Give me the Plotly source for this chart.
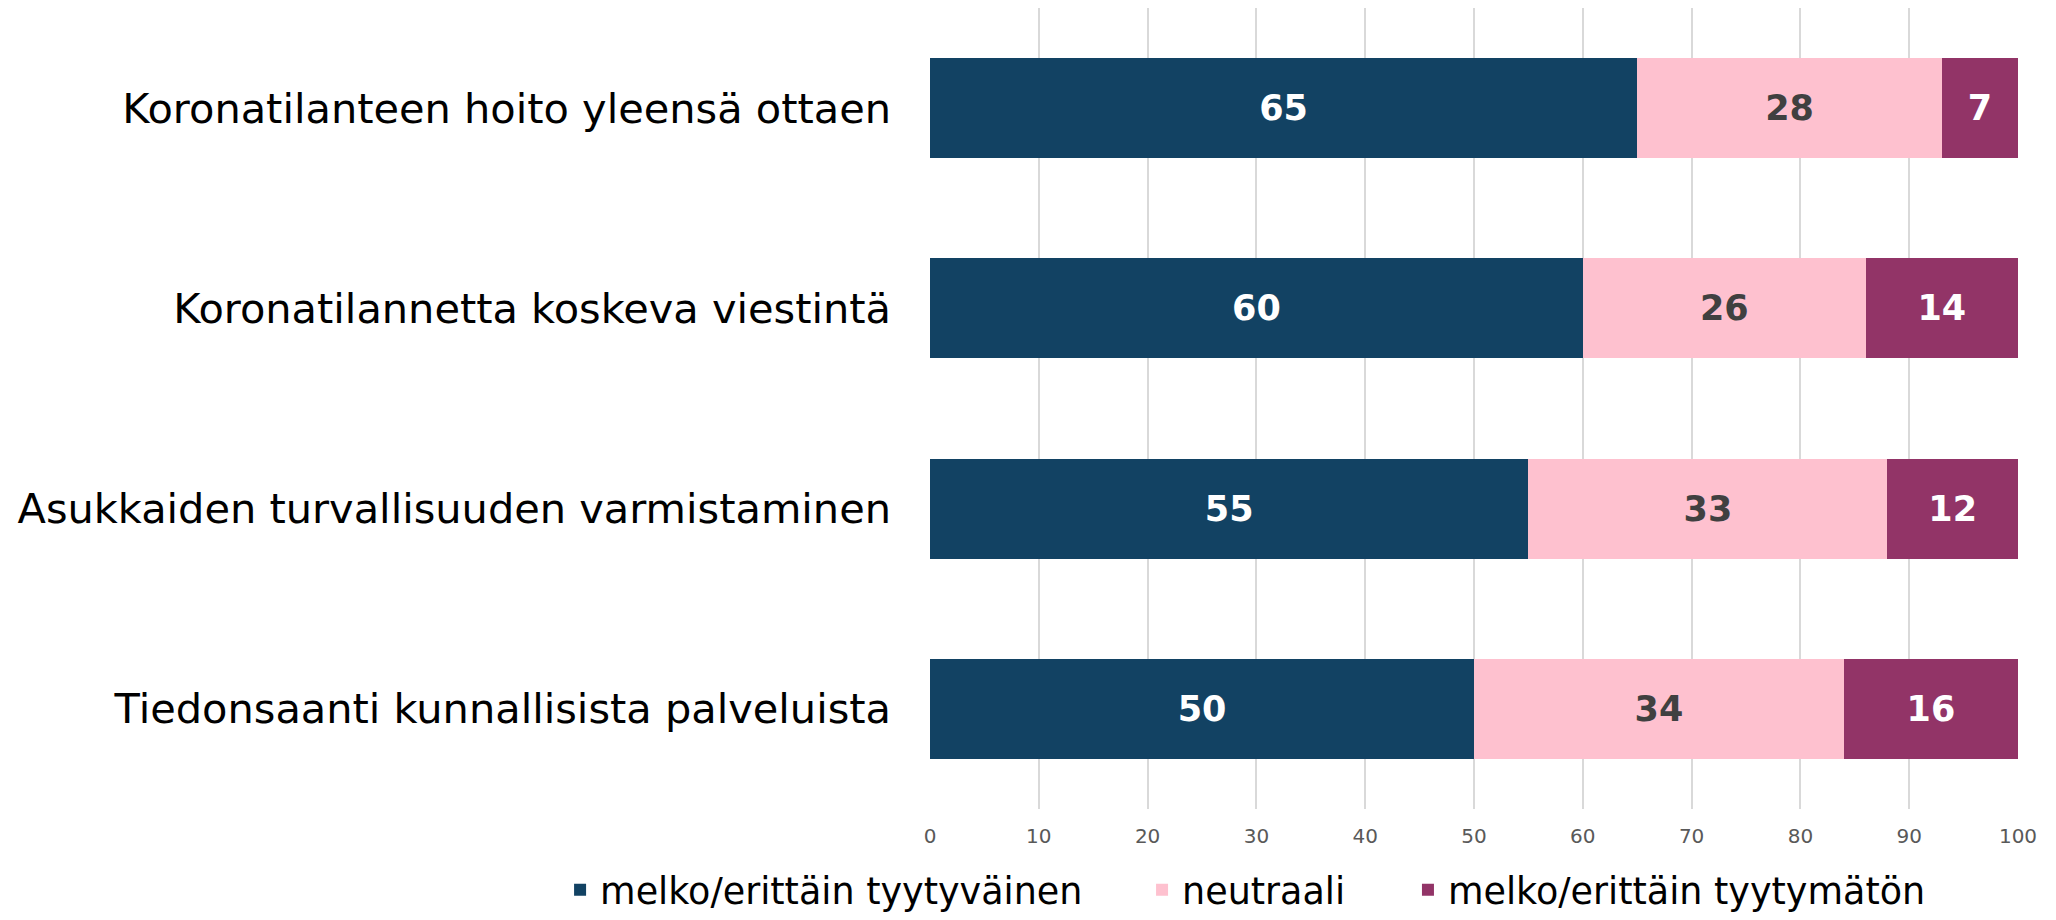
import plotly.graph_objects as go

categories = [
    "Koronatilanteen hoito yleensä ottaen",
    "Koronatilannetta koskeva viestintä",
    "Asukkaiden turvallisuuden varmistaminen",
    "Tiedonsaanti kunnallisista palveluista",
]
series_names = ["melko/erittäin tyytyväinen", "neutraali", "melko/erittäin tyytymätön"]
satisfied = [65, 60, 55, 50]
neutral = [28, 26, 33, 34]
dissatisfied = [7, 14, 12, 16]
x_ticks = [0, 10, 20, 30, 40, 50, 60, 70, 80, 90, 100]

colors = ["#124263", "#FEC1CF", "#923467"]
text_colors = ["#FFFFFF", "#404040", "#FFFFFF"]
legend_ids = ["legend", "legend2", "legend3"]
legend_x = [-0.340, 0.1949, 0.4393]

fig = go.Figure()
for name, vals, c, tc, lid in zip(series_names, [satisfied, neutral, dissatisfied],
                                  colors, text_colors, legend_ids):
    fig.add_trace(go.Bar(
        y=categories, x=vals, name=name, orientation="h",
        marker=dict(color=c, line=dict(width=0)),
        text=[str(v) for v in vals], textposition="inside",
        insidetextanchor="middle",
        textfont=dict(color=tc, size=35, family="DejaVu Sans", weight="bold"),
        cliponaxis=False, legend=lid,
    ))

legend_common = dict(
    orientation="h", xanchor="left", y=-0.101, yanchor="middle",
    font=dict(size=36.5, family="DejaVu Sans", color="#000000"),
    itemwidth=30, bgcolor="rgba(0,0,0,0)",
)
fig.update_layout(
    barmode="stack",
    bargap=0.5,
    width=2040, height=904,
    margin=dict(l=922, r=30, t=0, b=103, autoexpand=False),
    paper_bgcolor="white", plot_bgcolor="white",
    font=dict(family="DejaVu Sans", color="#000000"),
    uniformtext=dict(minsize=10, mode="show"),
    legend=dict(x=legend_x[0], **legend_common),
    legend2=dict(x=legend_x[1], **legend_common),
    legend3=dict(x=legend_x[2], **legend_common),
    showlegend=True,
)
fig.update_xaxes(
    range=[0, 100], tickvals=x_ticks, showgrid=True, gridcolor="#D9D9D9", gridwidth=1.5,
    zeroline=False, showline=False, automargin=False,
    tickfont=dict(size=20, color="#595959", family="DejaVu Sans"),
    ticks="", ticklabelstandoff=13,
)
fig.update_yaxes(
    autorange="reversed", showgrid=False, zeroline=False, automargin=False,
    tickfont=dict(size=41.5, color="#000000", family="DejaVu Sans"),
    ticks="", ticklabelstandoff=38,
)

fig.write_html("out.html")
